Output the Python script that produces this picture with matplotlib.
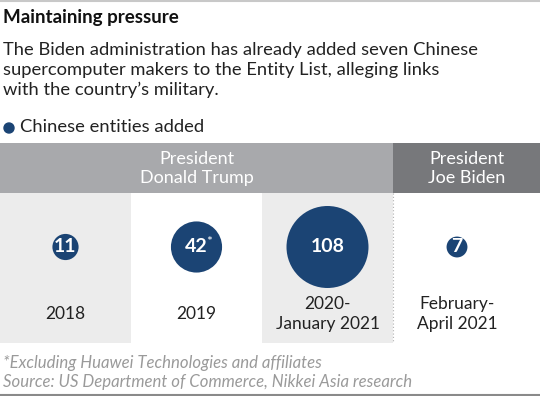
import numpy as np
import matplotlib.pyplot as plt
from matplotlib.patches import Rectangle, Circle

periods = ["2018", "2019", "2020-\nJanuary 2021", "February-\nApril 2021"]
entities = [11, 42, 108, 7]
value_labels = ["11", "42", "108", "7"]
presidents = ["President\nDonald Trump", "President\nJoe Biden"]
period_president = [0, 0, 0, 1]

navy = "#1b4474"
plt.rcParams['font.family'] = ['Lato', 'DejaVu Sans']

fig = plt.figure(figsize=(5.4, 3.96), dpi=100)
ax = fig.add_axes([0, 0, 1, 1])
ax.set_xlim(0, 540)
ax.set_ylim(396, 0)
ax.axis('off')

# rules top and bottom
ax.plot([0, 540], [1, 1], color="#c8c8c8", lw=1.5)
ax.plot([0, 540], [395, 395], color="#8a8a8a", lw=1.5)

ax.text(3, 18, "Maintaining pressure", fontsize=13.5, fontweight='bold',
        color="#111111", va='center', ha='left')
ax.text(3, 70, "The Biden administration has already added seven Chinese\n"
        "supercomputer makers to the Entity List, alleging links\n"
        "with the country\u2019s military.", fontsize=13.2, color="#222222",
        va='center', ha='left', linespacing=1.27)
ax.add_patch(Circle((9, 128), 5, color=navy))
ax.text(20, 127, "Chinese entities added", fontsize=13.2, color="#222222",
        va='center', ha='left')

# columns
col_x = [0, 131, 262, 393, 540]
head_top, head_bot, col_bot = 143, 193, 343
for i in range(len(periods)):
    fc = "#ececec" if i % 2 == 0 else "white"
    ax.add_patch(Rectangle((col_x[i], head_bot), col_x[i + 1] - col_x[i],
                           col_bot - head_bot, color=fc, lw=0))

# president header bands
pres_cols = [[i for i, p in enumerate(period_president) if p == k] for k in range(len(presidents))]
head_colors = ["#a8a9ac", "#77787b"]
for k, cols in enumerate(pres_cols):
    x0, x1 = col_x[cols[0]], col_x[cols[-1] + 1]
    ax.add_patch(Rectangle((x0, head_top), x1 - x0, head_bot - head_top,
                           color=head_colors[k], lw=0))
    ax.text((x0 + x1) / 2, (head_top + head_bot) / 2 + 0.5, presidents[k],
            fontsize=13, color="white", ha='center', va='center',
            linespacing=1.22)
ax.plot([col_x[3], col_x[3]], [head_bot, col_bot], color="#b0b0b0",
        lw=0.8, ls=(0, (1, 2)))

# bubbles, area proportional to value
k = 41 / np.sqrt(max(entities))
cy = 247
for i, (v, lab) in enumerate(zip(entities, value_labels)):
    cx = (col_x[i] + col_x[i + 1]) / 2
    if i == 3:
        cx = 457
    ax.add_patch(Circle((cx, cy), k * np.sqrt(v), color=navy, lw=0))
    ax.text(cx, cy, lab, fontsize=14, fontweight='bold', color="white",
            ha='center', va='center')
    if lab == "42":
        ax.text(cx + 10, cy - 5, "*", fontsize=10, color="white", ha='left', va='center')
    ax.text(cx, 314, periods[i], fontsize=12.5, color="#222222", ha='center',
            va='center', linespacing=1.25)

ax.text(3, 363, "*Excluding Huawei Technologies and affiliates", fontsize=12.1,
        style='italic', color="#9a9a9a", va='center', ha='left')
ax.text(3, 382, "Source: US Department of Commerce, Nikkei Asia research",
        fontsize=12.1, style='italic', color="#9a9a9a", va='center', ha='left')

fig.savefig("out.png", dpi=100)
